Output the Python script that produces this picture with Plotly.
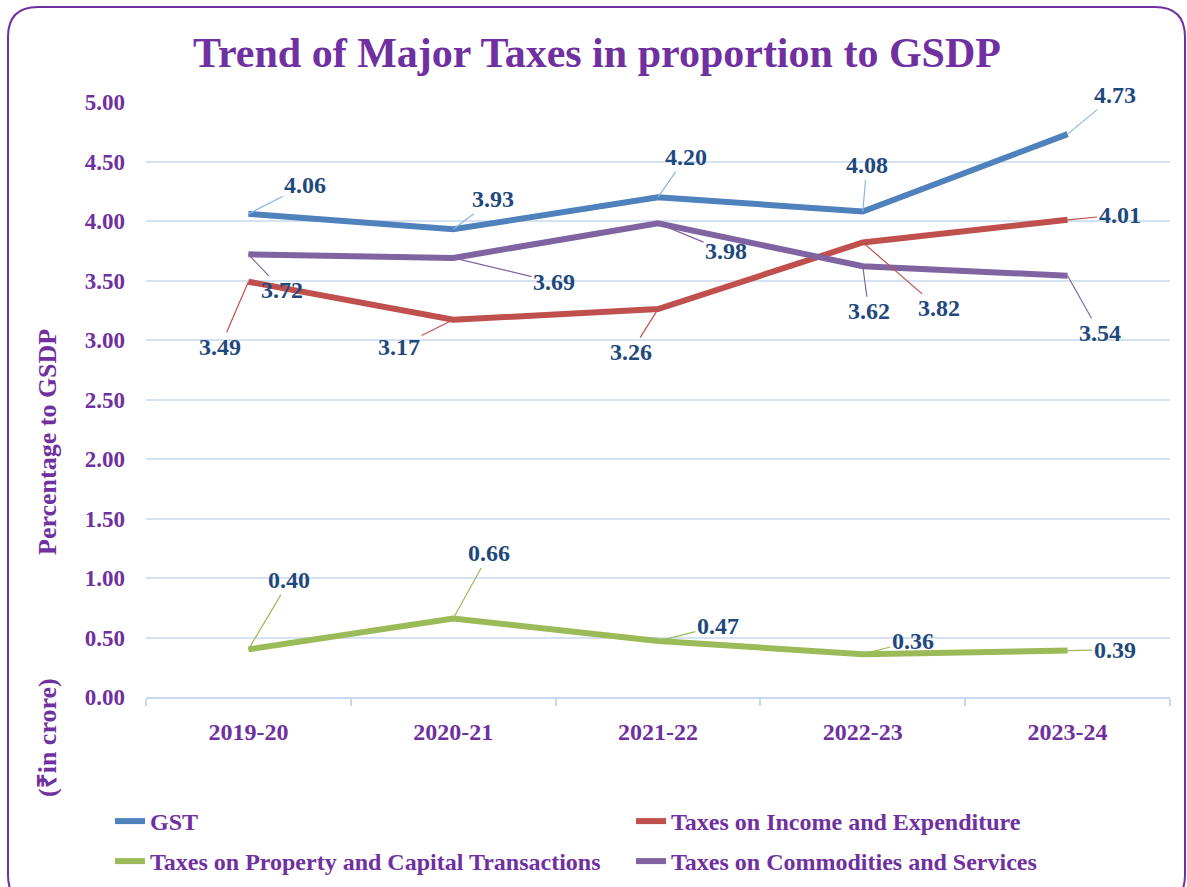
import plotly.graph_objects as go

years = ["2019-20", "2020-21", "2021-22", "2022-23", "2023-24"]
gst = [4.06, 3.93, 4.20, 4.08, 4.73]
income_exp = [3.49, 3.17, 3.26, 3.82, 4.01]
property_cap = [0.40, 0.66, 0.47, 0.36, 0.39]
commodities = [3.72, 3.69, 3.98, 3.62, 3.54]

series_names = ["GST", "Taxes on Income and Expenditure",
                "Taxes on Property and Capital Transactions",
                "Taxes on Commodities and Services"]
series_values = [gst, income_exp, property_cap, commodities]
series_colors = ["#4F81BD", "#C0504D", "#9BBB59", "#8064A2"]
leader_colors = ["#8DB3E2", "#C0504D", "#9BBB59", "#8064A2"]
series_legend = ["legend", "legend2", "legend3", "legend4"]

# label offsets in pixels (style only)
label_offsets = [
    [(57, -29), (40, -30), (28, -40), (4, -46), (47, -39)],
    [(-28, 65), (-54, 27), (-27, 43), (76, 66), (52, -5)],
    [(41, -69), (36, -65), (60, -15), (50, -13), (47, -1)],
    [(34, 36), (101, 24), (68, 28), (6, 45), (32, 57)],
]

W, H = 1187, 887
ML, MR, MT, MB = 146, 17, 102, 190
PW, PH = W - ML - MR, H - MT - MB

def px(x):
    return (x - ML) / PW

def py(y):
    return (H - MB - y) / PH

PURPLE = "#7030A0"
NAVY = "#1F497D"
SERIF = "Liberation Serif"

fig = go.Figure()
for name, vals, col, lg in zip(series_names, series_values, series_colors, series_legend):
    fig.add_trace(go.Scatter(
        x=years, y=vals, name=name, mode="lines", legend=lg,
        line=dict(color=col, width=6),
    ))

annotations = []
for vals, offs, lc in zip(series_values, label_offsets, leader_colors):
    for yr, v, (ax, ay) in zip(years, vals, offs):
        annotations.append(dict(
            x=yr, y=v, xref="x", yref="y", text=f"{v:.2f}",
            showarrow=True, arrowhead=0, arrowwidth=1.2, arrowcolor=lc,
            ax=ax, ay=ay, standoff=0,
            font=dict(family=SERIF, size=24, color=NAVY, weight="bold"),
        ))

annotations.append(dict(
    x=px(47), y=py(442), xref="paper", yref="paper", text="Percentage to GSDP",
    textangle=-90, showarrow=False, xanchor="center", yanchor="middle",
    font=dict(family=SERIF, size=26, color=PURPLE, weight="bold"),
))
annotations.append(dict(
    x=px(47), y=py(738), xref="paper", yref="paper", text="(₹in crore)",
    textangle=-90, showarrow=False, xanchor="center", yanchor="middle",
    font=dict(family=SERIF, size=26, color=PURPLE, weight="bold"),
))

# rounded border
l, r, t, b, rad = px(8), px(1185), py(7), py(905), 30
rx, ry = rad / PW, rad / PH
path = (f"M {l} {t - ry} Q {l} {t} {l + rx} {t} L {r - rx} {t} Q {r} {t} {r} {t - ry} "
        f"L {r} {b + ry} Q {r} {b} {r - rx} {b} L {l + rx} {b} Q {l} {b} {l} {b + ry} Z")

legend_font = dict(family=SERIF, size=24, color=PURPLE, weight="bold")

def legend_at(xpix, ypix):
    return dict(orientation="h", x=xpix / W, y=1 - ypix / H,
                xanchor="left", yanchor="top",
                xref="container", yref="container", itemwidth=30,
                font=legend_font, bgcolor="rgba(0,0,0,0)")

fig.update_layout(
    width=W, height=H,
    margin=dict(l=ML, r=MR, t=MT, b=MB, autoexpand=False),
    paper_bgcolor="white", plot_bgcolor="white",
    title=dict(text="Trend of Major Taxes in proportion to GSDP",
               x=597 / W, xref="container", xanchor="center",
               y=1 - 52 / H, yref="container", yanchor="middle",
               font=dict(family=SERIF, size=42, color=PURPLE, weight="bold")),
    xaxis=dict(type="category", tickson="boundaries", ticks="outside",
               ticklen=7, tickcolor="#C6D9F1", tickwidth=1.5,
               showgrid=False, showline=True, linecolor="#C6D9F1", linewidth=1.5,
               ticklabelstandoff=12,
               tickfont=dict(family=SERIF, size=24, color=PURPLE, weight="bold"),
               range=[-0.5, 4.5]),
    yaxis=dict(range=[0, 5], dtick=0.5, tickformat=".2f",
               showgrid=True, gridcolor="#D5E2F2", gridwidth=1.5,
               zeroline=False, showline=False, ticks="",
               ticklabelstandoff=20,
               tickfont=dict(family=SERIF, size=23, color=PURPLE, weight="bold")),
    legend=legend_at(110, 799),
    legend2=legend_at(631, 799),
    legend3=legend_at(110, 839),
    legend4=legend_at(631, 839),
    annotations=annotations,
    shapes=[dict(type="path", path=path, xref="paper", yref="paper",
                 line=dict(color=PURPLE, width=2), layer="below")],
    showlegend=True,
)

fig.write_html("out.html", config={"displayModeBar": False},
               post_script="document.body.style.margin='0px';")
